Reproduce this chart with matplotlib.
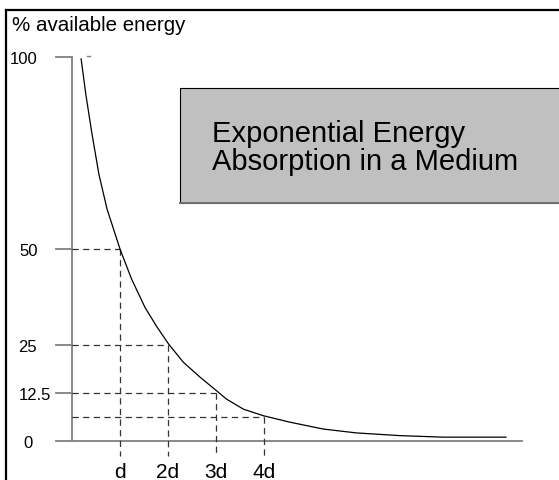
import matplotlib
matplotlib.use("Agg")
import matplotlib.pyplot as plt
from matplotlib.patches import Rectangle

plt.rcParams['font.family'] = ['Liberation Sans', 'DejaVu Sans']

'''Data read off the picture'''
# depth in units of d, energy in % of available energy
depth = [0.19, 0.29, 0.42, 0.56, 0.73, 1.0, 1.24, 1.52, 1.76, 2.01,
         2.32, 2.67, 3.01, 3.22, 3.57, 3.98, 4.54, 5.24, 5.93, 6.83,
         7.73, 9.04]
energy = [99.5, 90.1, 79.7, 69.5, 60.4, 50.0, 42.2, 34.8, 29.9, 25.3,
          20.5, 16.6, 13.1, 10.9, 8.3, 6.6, 4.9, 3.1, 2.1, 1.4,
          1.0, 1.0]

# halving points marked with dashed guides
half_depth = [1, 2, 3, 4]
half_energy = [50, 25, 12.5, 6.25]
x_labels = ["d", "2d", "3d", "4d"]

y_ticks = [100, 50, 25, 12.5, 0]
y_labels = ["100", "50", "25", "12.5", "0"]

title_lines = ["Exponential Energy", "Absorption in a Medium"]
y_title = "% available energy"


# pixel layout helpers (origin of the drawing at px 72, 442)
X0, Y0, PX, PY = 72, 442, 48.0, 3.84
W, H = 559, 481


def dx(px):
    return (px - X0) / PX


def dy(py):
    return (Y0 - py) / PY


def main():
    fig = plt.figure(figsize=(W / 100, H / 100), dpi=100)
    ax = fig.add_axes([0, 0, 1, 1])
    ax.set_xlim(dx(0), dx(W))
    ax.set_ylim(dy(H), dy(0))
    ax.axis("off")

    # outer frame (top and left)
    ax.plot([dx(6), dx(W + 5)], [dy(11), dy(11)], color="black", lw=1.6)
    ax.plot([dx(6), dx(6)], [dy(11), dy(H + 5)], color="black", lw=1.6)

    # title box
    box = Rectangle((dx(180), dy(204)), dx(W + 20) - dx(180), dy(89) - dy(204),
                    facecolor="#c0c0c0", edgecolor="black", lw=0.8)
    ax.add_patch(box)
    ax.plot([dx(180), dx(W + 5)], [dy(204), dy(204)], color="#707070", lw=1.4)
    ax.text(dx(212), dy(142), title_lines[0], fontsize=21, va="baseline", ha="left")
    ax.text(dx(212), dy(170.5), title_lines[1], fontsize=21, va="baseline", ha="left")

    ax.text(dx(12), dy(31), y_title, fontsize=14.8, va="baseline", ha="left")

    # axes
    axis_col = "#808080"
    ax.plot([0, 0], [0, max(y_ticks)], color=axis_col, lw=1.3)
    ax.plot([dx(56), dx(522)], [0, 0], color=axis_col, lw=1.3)
    for y in y_ticks[:-1]:
        ax.plot([dx(56), 0], [y, y], color=axis_col, lw=1.3)
    ax.plot([dx(87.5), dx(90.5)], [dy(57.3), dy(57.3)], color=axis_col, lw=1.0)

    # y tick labels (left edges as drawn)
    label_left = [9.5, 19, 18.3, 18.3, 23.8]
    for y, lab, lx in zip(y_ticks, y_labels, label_left):
        ax.text(dx(lx), y - 6.0 / PY, lab, fontsize=12, va="baseline", ha="left")

    # dashed guides at each halving
    dash = (0, (5, 3.5))
    for x, y in zip(half_depth, half_energy):
        ax.plot([0, x], [y, y], color="#333333", lw=0.9, linestyle=dash)
        ax.plot([x, x], [y, dy(457)], color="#333333", lw=0.9, linestyle=dash)
    for x, lab in zip(half_depth, x_labels):
        ax.text(x, dy(478), lab, fontsize=15, va="baseline", ha="center")

    # decay curve
    ax.plot(depth, energy, color="black", lw=0.9)

    fig.savefig("out.png", dpi=100)


main()
